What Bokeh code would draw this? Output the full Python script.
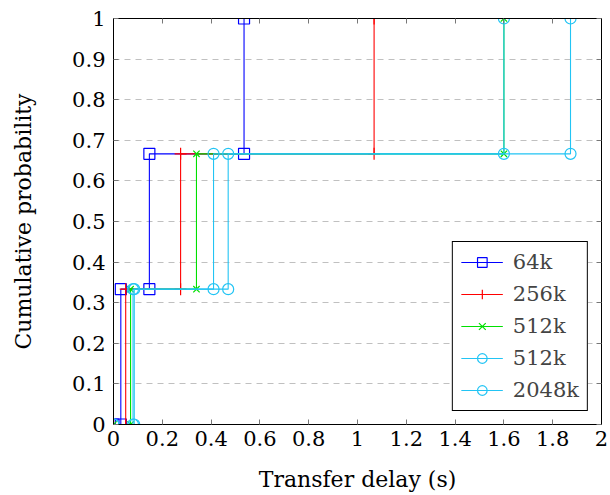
from bokeh.plotting import figure
from bokeh.models import (LinearAxis, FixedTicker, Legend, LegendItem, Range1d)
from bokeh.embed import file_html
from bokeh.resources import INLINE

# ---- data ----
levels = [0.0, 1/3, 2/3, 1.0]            # cumulative probability levels
labels = ["64k", "256k", "512k", "512k", "2048k"]
delays_64k = [0.0, 0.03, 0.147, 0.535]
delays_256k = [0.0, 0.05, 0.275, 1.068]
delays_512k_a = [0.0, 0.07, 0.34, 1.60]
delays_512k_b = [0.0, 0.08, 0.41, 1.60]
delays_2048k = [0.0, 0.085, 0.47, 1.873]
series = [delays_64k, delays_256k, delays_512k_a, delays_512k_b, delays_2048k]
colors = ["#0000ff", "#ff0000", "#00e000", "#22c4f4", "#22c4f4"]
markers = ["square", "cross", "x", "circle", "circle"]
marker_sizes = [11, 12, 9, 11, 11]

x_ticks = [0, 0.2, 0.4, 0.6, 0.8, 1.0, 1.2, 1.4, 1.6, 1.8, 2.0]
x_tick_labels = ["0", "0.2", "0.4", "0.6", "0.8", "1", "1.2", "1.4", "1.6", "1.8", "2"]
y_ticks = [0, 0.1, 0.2, 0.3, 0.4, 0.5, 0.6, 0.7, 0.8, 0.9, 1.0]
y_tick_labels = ["0", "0.1", "0.2", "0.3", "0.4", "0.5", "0.6", "0.7", "0.8", "0.9", "1"]

FONT = "DejaVu Serif"
FS = "21px"
FS_LABEL = "22px"

p = figure(width=610, height=495, x_range=Range1d(0, 2), y_range=Range1d(0, 1),
           output_backend="svg", toolbar_location=None,
           min_border_left=113, min_border_right=9, min_border_top=18, min_border_bottom=71)
p.outline_line_color = "black"
p.outline_line_width = 1
p.outline_line_alpha = 1
p.background_fill_color = "white"

def style_axis(ax, ticks, tick_labels, show_labels):
    ax.ticker = FixedTicker(ticks=ticks)
    ax.major_label_overrides = {t: l for t, l in zip(ticks, tick_labels)}
    ax.major_tick_in = 5
    ax.major_tick_out = 0
    ax.minor_tick_in = 0
    ax.minor_tick_out = 0
    ax.major_tick_line_color = "#777777"
    ax.axis_line_color = "black"
    ax.major_label_text_font = FONT
    ax.major_label_text_color = "black"
    if show_labels:
        ax.major_label_text_font_size = FS
    else:
        ax.major_label_text_font_size = "0px"
        ax.major_label_standoff = 0

style_axis(p.xaxis[0], x_ticks, x_tick_labels, True)
style_axis(p.yaxis[0], y_ticks, y_tick_labels, True)
p.xaxis[0].major_label_standoff = 6
p.yaxis[0].major_label_standoff = 8
p.xaxis[0].axis_label = "Transfer delay (s)"
p.yaxis[0].axis_label = "Cumulative probability"
for ax in (p.xaxis[0], p.yaxis[0]):
    ax.axis_label_text_font = FONT
    ax.axis_label_text_font_size = FS_LABEL
    ax.axis_label_text_font_style = "normal"
    ax.axis_label_text_color = "black"
p.xaxis[0].axis_label_standoff = 18
p.yaxis[0].axis_label_standoff = 33

top = LinearAxis()
style_axis(top, x_ticks, ["" for _ in x_ticks], False)
p.add_layout(top, "above")
right = LinearAxis()
style_axis(right, y_ticks, ["" for _ in y_ticks], False)
p.add_layout(right, "right")

p.xgrid.visible = False
p.ygrid.ticker = FixedTicker(ticks=y_ticks)
p.ygrid.grid_line_color = "#c0c0c0"
p.ygrid.grid_line_dash = "6 5"
p.ygrid.grid_line_width = 1

items = []
for lab, d, c, m, ms in zip(labels, series, colors, markers, marker_sizes):
    r_line = p.step(x=d, y=levels, mode="after", line_color=c, line_width=1.1)
    # markers at both corners of each step
    mx = d + d[1:]
    my = levels + levels[:-1]
    r_mark = p.scatter(x=mx, y=my, marker=m, size=ms, line_color=c, line_width=1.2,
                       fill_color=None)
    items.append(LegendItem(label=lab, renderers=[r_line, r_mark]))

legend = Legend(items=items, location="bottom_right")
legend.border_line_color = "black"
legend.border_line_width = 1
legend.border_line_alpha = 1
legend.background_fill_color = "white"
legend.background_fill_alpha = 1
legend.label_text_font = FONT
legend.label_text_font_size = FS
legend.glyph_width = 42
legend.glyph_height = 24
legend.label_height = 24
legend.spacing = 8
legend.padding = 8
legend.margin = 13
legend.label_standoff = 10
p.add_layout(legend)

open("out.html", "w").write(file_html(p, INLINE))
